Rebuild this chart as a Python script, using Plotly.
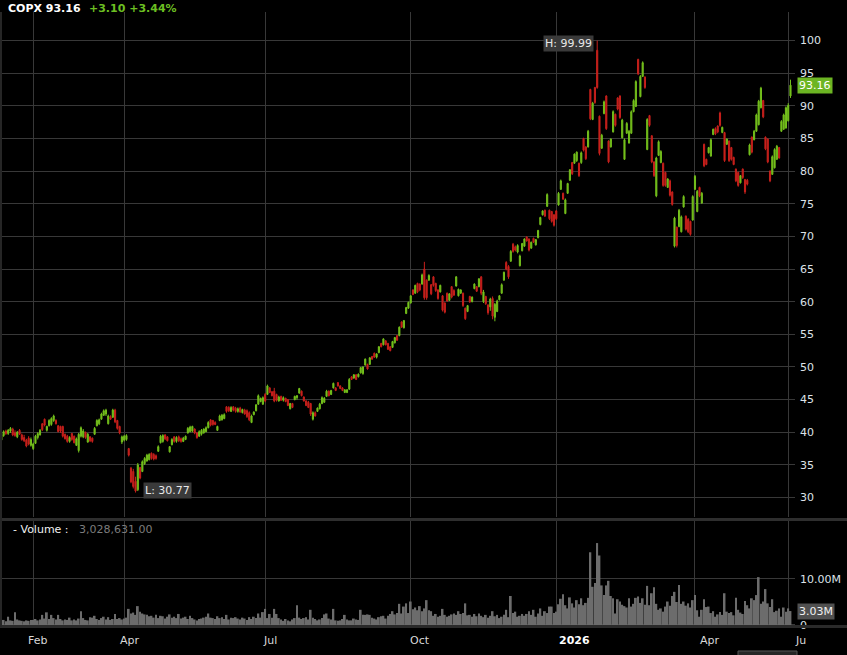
import pandas as pd
import plotly.graph_objects as go

# ---------------- data ----------------
opens = [
    38.8, 39.5, 40.2, 39.8, 40.2, 40.5, 39.9, 39.3, 40.3, 39.6,
    39.2, 38.8, 39.1, 38.0, 37.5, 38.3, 39.2, 39.6, 41.3, 42.0,
    40.3, 41.0, 41.2, 41.8, 41.8, 41.0, 40.9, 40.9, 39.7, 39.4,
    38.6, 39.8, 39.4, 38.0, 37.2, 39.4, 39.3, 40.0, 38.5, 39.3,
    39.1, 39.7, 41.0, 41.3, 42.0, 42.6, 42.8, 41.3, 42.4, 42.3,
    43.4, 41.8, 40.9, 38.5, 38.8, 38.9, 37.5, 34.5, 34.0, 32.5,
    31.2, 34.6, 34.0, 35.2, 35.6, 35.8, 36.8, 36.6, 36.4, 37.1,
    38.4, 38.6, 39.6, 39.3, 37.0, 38.1, 39.3, 38.6, 39.3, 39.0,
    38.6, 38.9, 39.9, 40.1, 40.2, 40.5, 39.9, 39.4, 39.7, 39.9,
    40.1, 40.7, 41.9, 41.8, 41.5, 40.3, 41.8, 41.9, 42.1, 43.9,
    43.8, 43.2, 43.9, 43.7, 43.2, 43.7, 43.0, 43.4, 43.3, 43.0,
    41.5, 42.7, 43.3, 44.3, 44.7, 44.3, 45.8, 45.8, 46.8, 46.2,
    46.3, 45.8, 44.8, 45.5, 44.9, 45.2, 45.0, 43.6, 44.4, 45.0,
    45.3, 46.0, 46.3, 45.4, 44.8, 44.6, 44.4, 42.0, 43.0, 43.2,
    43.6, 44.4, 44.6, 45.5, 46.3, 45.8, 46.8, 46.8, 47.6, 47.1,
    46.8, 46.1, 46.1, 46.6, 48.5, 48.3, 48.8, 48.5, 49.1, 49.0,
    50.3, 50.4, 50.4, 51.6, 52.1, 51.5, 52.2, 53.6, 53.4, 54.0,
    53.6, 53.1, 53.0, 53.7, 54.8, 54.8, 56.9, 56.0, 58.2, 59.0,
    59.8, 61.8, 61.3, 62.8, 62.7, 62.7, 65.0, 63.3, 63.3, 62.6,
    63.8, 62.8, 61.8, 61.5, 60.9, 59.8, 61.3, 60.2, 62.3, 61.7,
    62.4, 60.9, 61.3, 61.3, 59.0, 58.5, 60.8, 60.0, 62.0, 62.3,
    62.3, 63.8, 60.0, 60.8, 59.5, 59.2, 60.5, 57.6, 58.5, 60.3,
    61.3, 63.3, 66.0, 65.4, 66.2, 68.8, 68.4, 67.6, 65.5, 67.8,
    68.5, 69.9, 69.6, 68.2, 69.7, 68.7, 69.8, 71.8, 73.3, 74.0,
    74.6, 74.0, 73.8, 73.3, 73.9, 74.8, 77.2, 76.6, 73.5, 76.6,
    78.6, 81.3, 81.2, 81.6, 81.2, 81.3, 85.0, 83.7, 83.7, 92.5,
    87.9, 92.8, 98.5, 88.4, 83.5, 88.8, 91.5, 84.6, 83.7, 86.0,
    88.7, 91.2, 91.5, 85.1, 81.8, 85.8, 84.3, 85.8, 89.1, 89.9,
    97.1, 91.4, 94.5, 94.4, 83.3, 88.5, 85.4, 81.4, 76.2, 82.4,
    81.3, 81.2, 79.8, 77.5, 78.5, 76.8, 68.5, 71.4, 71.5, 70.7,
    74.5, 73.1, 72.6, 72.3, 72.5, 77.2, 73.8, 77.5, 75.1, 84.1,
    81.8, 82.8, 82.3, 85.6, 86.5, 86.9, 88.9, 85.9, 85.9, 84.1,
    84.6, 83.6, 82.1, 80.3, 79.8, 78.2, 80.3, 78.7, 78.6, 82.5,
    85.2, 84.8, 86.1, 87.1, 89.7, 90.8, 85.2, 84.9, 80.0, 79.5,
    80.5, 81.8, 83.6, 86.1, 86.4, 86.6, 87.7, 91.5,
]
highs = [
    39.8, 40.3, 40.4, 40.5, 40.8, 40.7, 40.3, 40.2, 40.5, 39.8,
    39.6, 39.0, 39.4, 39.2, 38.4, 39.6, 40.0, 40.5, 41.4, 42.1,
    41.0, 42.0, 42.3, 42.7, 42.0, 41.1, 41.0, 41.0, 39.8, 39.6,
    39.4, 39.9, 39.5, 39.2, 39.9, 40.9, 40.5, 40.1, 39.9, 39.4,
    39.2, 40.8, 42.0, 42.1, 43.0, 43.5, 43.6, 42.7, 42.6, 43.6,
    43.6, 41.9, 41.0, 39.5, 39.6, 39.7, 37.6, 34.7, 34.4, 33.2,
    35.3, 34.7, 35.7, 36.2, 36.7, 36.8, 36.9, 36.8, 36.6, 38.0,
    39.6, 39.7, 39.7, 39.4, 37.9, 39.1, 39.4, 39.4, 39.5, 39.2,
    39.3, 39.5, 40.8, 41.0, 41.0, 40.6, 40.0, 40.3, 40.5, 40.6,
    40.9, 41.7, 42.0, 41.9, 41.7, 41.0, 42.7, 42.8, 42.9, 44.0,
    44.0, 44.0, 44.0, 43.9, 43.8, 43.9, 43.6, 43.6, 43.5, 43.2,
    42.7, 43.2, 44.3, 45.8, 45.3, 45.5, 46.0, 47.3, 46.9, 46.3,
    46.8, 45.9, 45.6, 45.6, 45.5, 45.3, 45.1, 44.5, 44.5, 45.6,
    45.7, 46.8, 46.4, 45.5, 44.9, 44.8, 44.5, 43.2, 43.2, 43.8,
    44.5, 45.5, 45.4, 46.5, 46.4, 46.5, 47.6, 46.9, 47.7, 47.2,
    46.9, 46.6, 46.6, 48.3, 48.6, 48.9, 48.9, 49.0, 50.0, 50.1,
    51.3, 50.5, 51.5, 51.7, 52.2, 52.1, 53.2, 53.7, 54.4, 54.1,
    53.7, 53.2, 54.0, 54.6, 54.9, 56.2, 57.0, 57.2, 59.2, 60.0,
    61.0, 61.9, 62.6, 62.9, 62.8, 64.3, 66.1, 63.4, 64.2, 62.7,
    63.9, 62.9, 61.9, 62.6, 61.0, 59.9, 61.4, 61.3, 62.4, 61.9,
    63.9, 62.0, 61.9, 61.4, 59.1, 59.5, 60.9, 60.8, 62.8, 62.4,
    63.6, 63.9, 61.8, 60.9, 59.6, 60.6, 60.8, 59.8, 60.3, 61.0,
    62.8, 64.6, 66.2, 65.6, 67.9, 69.0, 68.6, 68.8, 67.2, 69.0,
    69.7, 70.0, 69.7, 69.2, 69.8, 69.6, 71.0, 73.0, 74.0, 74.1,
    76.6, 74.1, 73.9, 73.4, 74.0, 76.8, 78.7, 76.7, 75.8, 78.2,
    80.3, 81.4, 82.7, 83.0, 81.3, 83.0, 85.1, 83.8, 86.3, 92.6,
    90.6, 92.9, 99.99, 88.5, 85.7, 90.8, 91.6, 84.7, 85.0, 89.3,
    88.8, 91.3, 91.6, 88.0, 85.0, 87.5, 86.3, 89.3, 91.0, 93.9,
    97.2, 94.7, 96.8, 94.5, 88.1, 88.6, 85.5, 81.5, 82.2, 84.7,
    83.2, 81.3, 79.9, 78.9, 78.7, 76.9, 73.0, 71.5, 74.2, 73.2,
    76.3, 73.2, 72.8, 72.4, 76.3, 79.4, 77.1, 77.6, 76.8, 84.2,
    81.9, 83.7, 85.0, 86.5, 86.7, 87.0, 89.1, 86.8, 86.0, 85.0,
    84.7, 83.7, 82.2, 80.4, 79.9, 79.4, 80.4, 78.8, 78.8, 84.2,
    85.3, 86.3, 88.8, 90.9, 92.9, 90.9, 85.3, 85.0, 80.1, 82.4,
    83.5, 84.0, 83.7, 87.8, 88.8, 89.9, 90.4, 94.0,
]
lows = [
    38.6, 39.3, 39.6, 39.6, 39.9, 39.4, 39.3, 39.1, 39.6, 38.7,
    38.5, 37.7, 38.0, 37.8, 37.3, 38.2, 38.9, 39.5, 40.2, 40.9,
    40.1, 40.9, 41.0, 41.6, 41.2, 40.0, 39.9, 39.2, 38.9, 38.4,
    38.4, 38.7, 38.3, 37.9, 36.9, 39.2, 39.1, 39.0, 38.4, 38.5,
    38.4, 39.6, 40.9, 41.1, 41.9, 42.5, 42.5, 41.2, 41.9, 42.2,
    41.4, 40.4, 39.7, 38.2, 38.6, 38.7, 36.3, 32.2, 31.4, 30.77,
    31.0, 32.8, 33.9, 35.0, 35.5, 35.7, 35.8, 35.7, 35.8, 37.0,
    38.3, 38.4, 38.8, 38.6, 36.9, 38.0, 38.4, 38.4, 38.5, 38.4,
    38.5, 38.8, 39.8, 40.0, 40.0, 39.7, 39.0, 39.3, 39.5, 39.8,
    40.0, 40.6, 40.9, 41.0, 41.1, 40.2, 41.7, 41.8, 42.0, 43.0,
    43.1, 43.1, 43.2, 43.0, 43.0, 43.0, 42.9, 42.7, 42.2, 41.7,
    41.4, 42.6, 43.2, 44.2, 44.6, 44.2, 44.6, 45.7, 46.0, 45.5,
    44.6, 44.7, 44.7, 44.8, 44.7, 44.6, 44.0, 43.5, 43.7, 44.9,
    45.0, 45.9, 45.5, 44.7, 44.0, 43.7, 42.5, 41.8, 42.4, 43.1,
    43.5, 44.3, 44.5, 45.4, 45.5, 45.7, 46.7, 46.3, 47.0, 46.6,
    46.3, 46.0, 46.0, 46.5, 48.0, 48.2, 48.0, 48.4, 49.0, 48.8,
    50.2, 49.6, 50.3, 51.1, 51.4, 51.3, 52.1, 53.0, 53.3, 53.3,
    52.6, 52.4, 52.9, 53.6, 54.0, 54.7, 56.0, 55.9, 58.1, 58.9,
    59.7, 61.0, 61.2, 61.3, 61.6, 62.6, 60.3, 60.3, 63.2, 61.0,
    62.3, 61.5, 60.3, 61.4, 58.5, 58.2, 60.0, 60.1, 60.5, 60.9,
    62.3, 60.8, 61.2, 59.2, 57.2, 58.4, 59.8, 59.9, 61.9, 61.5,
    62.2, 61.0, 59.8, 59.5, 58.0, 58.6, 57.3, 57.0, 58.4, 60.2,
    61.2, 63.2, 64.8, 63.5, 66.1, 67.5, 67.7, 67.4, 65.4, 67.7,
    68.4, 69.2, 67.7, 68.1, 69.0, 68.6, 69.7, 71.7, 73.2, 73.0,
    74.5, 72.5, 72.1, 71.5, 72.5, 74.7, 77.1, 75.6, 73.4, 76.5,
    78.5, 79.4, 81.1, 81.4, 79.1, 81.1, 83.0, 81.7, 83.6, 87.8,
    87.8, 90.3, 92.6, 82.4, 83.4, 88.7, 86.3, 81.2, 83.6, 85.9,
    86.8, 89.3, 88.0, 85.0, 81.7, 85.7, 84.2, 85.7, 89.0, 89.8,
    94.7, 91.3, 94.4, 92.6, 83.2, 86.8, 81.2, 79.1, 76.0, 82.3,
    81.2, 77.6, 77.6, 77.4, 76.1, 74.7, 68.3, 68.3, 71.4, 70.6,
    74.4, 70.9, 70.5, 70.1, 72.4, 77.1, 73.7, 76.0, 75.0, 80.6,
    80.9, 82.7, 82.2, 85.5, 85.5, 85.8, 86.8, 85.8, 81.4, 84.0,
    81.4, 81.6, 80.9, 78.3, 77.6, 78.1, 78.8, 76.5, 77.8, 82.4,
    82.7, 84.7, 86.0, 87.0, 89.6, 88.1, 83.2, 81.2, 78.3, 79.4,
    80.4, 81.7, 81.9, 86.0, 86.3, 86.5, 87.6, 91.2,
]
closes = [
    39.6, 40.1, 39.8, 40.3, 40.6, 39.6, 39.5, 40.0, 39.7, 38.9,
    38.7, 37.9, 38.2, 38.9, 38.2, 39.4, 39.8, 40.3, 40.4, 41.1,
    40.9, 41.8, 42.1, 42.5, 41.3, 40.1, 40.2, 39.4, 39.0, 38.6,
    39.2, 38.9, 38.4, 39.0, 39.7, 40.7, 40.2, 39.2, 39.7, 38.7,
    38.6, 40.6, 41.8, 41.9, 42.8, 43.3, 43.4, 42.5, 42.0, 43.4,
    41.6, 40.6, 39.9, 39.3, 39.4, 39.5, 36.5, 32.4, 31.7, 31.0,
    35.0, 33.0, 35.5, 36.0, 36.5, 36.6, 36.0, 35.9, 36.0, 37.8,
    39.4, 39.5, 39.0, 38.7, 37.8, 38.9, 38.6, 39.2, 38.7, 38.6,
    39.1, 39.4, 40.6, 40.8, 40.9, 39.9, 39.2, 40.1, 40.3, 40.5,
    40.7, 41.5, 41.1, 41.2, 41.2, 40.9, 42.5, 42.6, 42.7, 43.2,
    43.3, 43.8, 43.4, 43.2, 43.6, 43.1, 43.5, 42.8, 42.4, 41.9,
    42.5, 43.1, 44.2, 45.6, 45.2, 45.3, 44.8, 47.1, 46.1, 45.6,
    44.8, 44.9, 45.4, 44.9, 45.3, 44.7, 44.1, 44.4, 43.8, 45.5,
    45.6, 46.7, 45.6, 44.8, 44.1, 43.8, 42.8, 43.0, 42.5, 43.7,
    44.3, 45.3, 45.2, 46.3, 45.6, 46.4, 47.5, 46.4, 47.1, 46.7,
    46.4, 46.5, 46.5, 48.1, 48.1, 48.8, 48.1, 48.9, 49.9, 50.0,
    51.2, 49.7, 51.4, 51.2, 51.5, 52.0, 53.1, 53.1, 54.3, 53.4,
    52.7, 52.5, 53.9, 54.5, 54.1, 56.1, 56.1, 57.1, 59.1, 59.9,
    60.9, 61.1, 62.5, 61.5, 61.8, 64.1, 60.6, 60.6, 64.0, 61.2,
    62.5, 61.7, 60.5, 62.5, 58.7, 58.4, 60.1, 61.2, 60.7, 61.0,
    63.8, 61.9, 61.8, 59.4, 57.4, 59.4, 60.0, 60.7, 62.7, 61.6,
    63.5, 61.3, 61.5, 59.7, 58.3, 60.4, 57.8, 59.6, 60.1, 60.9,
    62.6, 64.5, 65.0, 63.8, 67.7, 67.7, 67.9, 68.6, 67.0, 68.9,
    69.6, 69.3, 67.9, 69.1, 69.1, 69.5, 70.9, 72.9, 73.9, 73.1,
    76.4, 72.7, 72.3, 71.7, 72.7, 76.6, 78.5, 75.7, 75.6, 78.1,
    80.2, 79.6, 82.6, 82.9, 79.3, 82.8, 83.2, 81.9, 86.1, 88.0,
    90.4, 90.5, 92.8, 82.7, 85.5, 90.6, 86.5, 81.4, 84.9, 89.1,
    87.0, 89.5, 88.2, 87.8, 84.8, 87.3, 86.1, 89.1, 90.8, 93.7,
    94.9, 94.5, 96.6, 92.8, 87.9, 87.0, 81.4, 79.3, 82.0, 84.5,
    83.0, 77.8, 77.8, 78.8, 76.3, 74.9, 72.8, 68.6, 74.0, 73.0,
    76.1, 71.1, 70.7, 70.3, 76.1, 79.2, 76.9, 76.2, 76.6, 80.8,
    81.0, 83.6, 84.8, 86.4, 85.7, 86.0, 87.0, 86.7, 81.6, 84.9,
    81.6, 81.8, 81.0, 78.5, 77.8, 79.3, 79.0, 76.8, 78.0, 84.0,
    82.9, 86.1, 88.6, 90.7, 92.7, 88.3, 83.4, 81.4, 78.5, 82.2,
    83.3, 83.8, 82.0, 87.6, 88.6, 89.7, 90.06, 93.16,
]
volumes_m = [
    0.9, 1.1, 0.8, 1.8, 1.0, 0.9, 2.75, 1.2, 1.0, 0.9,
    0.8, 1.0, 0.9, 1.1, 1.1, 1.3, 1.0, 1.2, 2.2, 1.4,
    2.75, 1.3, 2.2, 1.5, 1.2, 2.2, 1.3, 1.0, 1.2, 1.1,
    1.6, 1.0, 1.2, 1.0, 1.4, 3.0, 1.5, 1.1, 1.0, 1.7,
    1.6, 2.0, 1.3, 1.1, 1.5, 1.8, 1.2, 1.7, 1.1, 1.3,
    2.4, 1.3, 1.5, 1.2, 1.4, 1.6, 3.5, 2.5, 2.7, 2.2,
    4.1, 2.9, 2.5, 2.3, 2.2, 1.9, 2.0, 1.6, 2.2, 1.5,
    2.0, 1.9, 1.4, 1.8, 2.3, 1.6, 1.8, 1.5, 2.4, 1.4,
    1.6, 1.8, 1.3, 2.0, 1.5, 1.2, 1.0, 1.3, 1.4, 1.6,
    1.8, 2.5, 1.6, 1.5, 1.3, 1.9, 1.5, 1.7, 1.3, 2.2,
    1.2, 1.6, 1.5, 1.7, 1.4, 1.2, 1.6, 1.4, 1.1, 1.7,
    1.3, 1.8, 1.5, 2.5, 1.6, 2.8, 3.5, 1.5, 2.4, 1.6,
    3.5, 2.4, 1.5, 1.2, 0.9, 1.3, 1.0, 0.8, 1.2, 1.5,
    4.3, 1.6, 1.3, 1.5, 1.7, 1.2, 3.3, 1.6, 1.3, 1.0,
    1.2, 1.5, 2.3, 2.5, 1.4, 1.2, 3.5, 1.0, 0.9, 1.0,
    1.3, 2.2, 1.2, 1.0, 1.0, 1.4, 1.2, 1.1, 3.3, 2.2,
    2.2, 2.3, 2.2, 1.6, 1.4, 1.2, 1.7, 1.9, 2.0, 1.4,
    2.0, 2.4, 3.0, 2.3, 2.6, 4.6, 2.5, 4.0, 4.7, 2.6,
    5.1, 3.4, 3.8, 3.2, 4.1, 3.0, 3.6, 5.4, 3.2, 3.0,
    2.0, 2.4, 1.8, 2.0, 3.5, 2.2, 1.8, 2.0, 2.3, 2.5,
    2.2, 3.0, 2.4, 2.6, 4.7, 2.1, 2.2, 1.8, 2.4, 1.9,
    2.5, 2.0, 1.7, 2.2, 1.6, 2.0, 3.0, 1.9, 2.2, 1.5,
    1.8, 2.2, 3.3, 1.7, 6.3, 2.6, 2.9, 1.8, 2.0, 2.4,
    2.0, 2.4, 3.0, 2.2, 3.3, 1.8, 2.5, 3.6, 2.0, 3.0,
    2.6, 4.0, 4.0, 2.6, 2.9, 4.5, 5.7, 6.7, 4.3, 3.6,
    6.0, 4.7, 3.8, 5.4, 4.5, 5.8, 4.3, 4.8, 5.9, 15.8,
    8.3, 9.1, 17.8, 15.1, 8.6, 6.5, 8.6, 9.6, 6.3, 5.8,
    2.5, 5.6, 5.1, 4.4, 4.1, 3.8, 5.8, 4.0, 4.6, 5.9,
    6.2, 4.8, 5.8, 4.4, 8.5, 4.3, 6.9, 8.2, 4.6, 3.3,
    3.6, 2.9, 4.0, 5.1, 4.2, 6.3, 7.2, 5.0, 8.7, 4.6,
    5.1, 4.2, 4.7, 3.8, 5.4, 6.5, 3.2, 1.8, 3.3, 5.6,
    3.9, 4.0, 2.6, 3.0, 1.8, 2.3, 2.8, 2.2, 6.9, 2.9,
    2.6, 2.8, 2.1, 5.9, 3.3, 2.7, 2.4, 5.2, 4.3, 3.6,
    5.8, 5.4, 6.5, 10.4, 4.6, 5.1, 7.8, 4.7, 3.9, 5.6,
    2.8, 3.1, 3.6, 1.8, 3.8, 2.9, 3.6, 3.028631,
]

market_holidays = [
    "2025-01-09", "2025-01-20", "2025-02-17", "2025-04-18", "2025-05-26",
    "2025-06-19", "2025-07-04", "2025-09-01", "2025-11-27", "2025-12-25",
    "2026-01-01", "2026-01-19", "2026-02-16", "2026-04-03", "2026-05-25",
]
last_session = "2026-06-02"
tick_months = ["2025-02", "2025-04", "2025-07", "2025-10", "2026-01", "2026-04", "2026-06"]
tick_labels = ["Feb", "Apr", "Jul", "Oct", "2026", "Apr", "Ju"]

symbol = "COPX"
last_price = 93.16
change = "+3.10"
change_pct = "+3.44%"
last_volume = "3,028,631.00"

# ---------------- build ----------------
n = len(closes)
sessions = pd.date_range("2024-12-01", last_session,
                         freq=pd.offsets.CustomBusinessDay(holidays=market_holidays))
dates = [d.strftime("%Y-%m-%d") for d in sessions[-n:]]
volumes = [v * 1e6 for v in volumes_m]

tick_dates = []
for m in tick_months:
    tick_dates.append(next(d for d in dates if d.startswith(m)))

GREEN = "#74c01c"
RED = "#c8201c"
GRID = "#383838"
TXT = "#dde2e8"
FONT = "DejaVu Sans"

fig = go.Figure()
fig.add_trace(go.Candlestick(
    x=dates, open=opens, high=highs, low=lows, close=closes,
    increasing=dict(line=dict(color=GREEN, width=1), fillcolor=GREEN),
    decreasing=dict(line=dict(color=RED, width=1), fillcolor=RED),
    whiskerwidth=0, xaxis="x", yaxis="y", showlegend=False, hoverinfo="skip",
))
fig.add_trace(go.Bar(
    x=dates, y=volumes, marker=dict(color="#6c6c6c", line=dict(width=0)),
    xaxis="x2", yaxis="y2", showlegend=False, hoverinfo="skip",
))

xr = [n - 1 - 347.6, n - 1 + 1.98]
common_x = dict(type="category", range=xr, tickvals=tick_dates, ticktext=[""] * len(tick_dates),
                showgrid=True, gridcolor=GRID, gridwidth=1, zeroline=False, showline=False,
                ticks="", showticklabels=False, fixedrange=True)

fig.update_layout(
    width=847, height=655,
    paper_bgcolor="#000000", plot_bgcolor="#000000",
    margin=dict(l=0, r=52, t=12, b=28),
    font=dict(family=FONT, size=11, color=TXT),
    bargap=0.2,
    xaxis=dict(**common_x, anchor="y", rangeslider=dict(visible=False)),
    xaxis2=dict(**common_x, anchor="y2", matches="x"),
    yaxis=dict(domain=[0.1789, 1.0], range=[27.03, 104.36], side="right",
               tickvals=list(range(30, 101, 5)), showgrid=True, gridcolor=GRID,
               zeroline=False, showline=False, ticks="", ticklabelstandoff=4,
               tickfont=dict(family=FONT, size=11, color=TXT)),
    yaxis2=dict(domain=[0.0, 0.1724], range=[-0.435e6, 22.6e6], side="right",
                tickvals=[0, 10e6], ticktext=["0", "10.00M"], showgrid=True,
                gridcolor=GRID, zeroline=False, showline=False, ticks="",
                ticklabelstandoff=4, tickfont=dict(family=FONT, size=11, color=TXT)),
)

ann = []
# header
ann.append(dict(xref="paper", yref="paper", x=0, y=1, xanchor="left", yanchor="middle",
                xshift=6, yshift=4, showarrow=False,
                text=f"<b>{symbol} {last_price:.2f}</b>",
                font=dict(family=FONT, size=11, color="#ffffff")))
ann.append(dict(xref="paper", yref="paper", x=0, y=1, xanchor="left", yanchor="middle",
                xshift=87, yshift=4, showarrow=False,
                text=f"<b>{change} {change_pct}</b>",
                font=dict(family=FONT, size=11, color="#6cbf22")))
# volume header
ann.append(dict(xref="paper", yref="paper", x=0, y=0.1724, xanchor="left", yanchor="middle",
                xshift=11, yshift=-9, showarrow=False, text="- Volume :",
                font=dict(family=FONT, size=11, color="#f0f0f0")))
ann.append(dict(xref="paper", yref="paper", x=0, y=0.1724, xanchor="left", yanchor="middle",
                xshift=77, yshift=-9, showarrow=False, text=last_volume,
                font=dict(family=FONT, size=11, color="#7c7c7c")))
# high / low markers
ih = highs.index(max(highs))
il = lows.index(min(lows))
ann.append(dict(xref="x", yref="y", x=dates[ih], y=highs[ih], xanchor="right", yanchor="middle",
                xshift=-3, yshift=-3, showarrow=False, text=f"H: {highs[ih]:.2f}",
                bgcolor="#3a3a3a", borderpad=1,
                font=dict(family=FONT, size=11, color="#e8e8e8")))
ann.append(dict(xref="x", yref="y", x=dates[il], y=lows[il], xanchor="left", yanchor="middle",
                xshift=7, yshift=2, showarrow=False, text=f"L: {lows[il]:.2f}",
                bgcolor="#3a3a3a", borderpad=1,
                font=dict(family=FONT, size=11, color="#e8e8e8")))
# last price / volume tags
ann.append(dict(xref="paper", yref="y", x=1, y=closes[-1], xanchor="left", yanchor="middle",
                xshift=2, showarrow=False, text=f"{closes[-1]:.2f}", bgcolor="#6cb523",
                borderpad=1, font=dict(family=FONT, size=11, color="#ffffff")))
ann.append(dict(xref="paper", yref="y2", x=1, y=volumes[-1], xanchor="left", yanchor="middle",
                xshift=2, showarrow=False, text=f"{volumes[-1] / 1e6:.2f}M", bgcolor="#505050",
                borderpad=1, font=dict(family=FONT, size=11, color="#f0f0f0")))
# x labels
label_shift = [4, 5.5, 5, 9.5, 18, 15, 5]
for d, t, s in zip(tick_dates, tick_labels, label_shift):
    bold = t.isdigit()
    ann.append(dict(xref="x2", yref="paper", x=d, y=0, xanchor="left" if t == "Ju" else "center",
                    yanchor="middle", xshift=s, yshift=-13, showarrow=False,
                    text=f"<b>{t}</b>" if bold else t,
                    font=dict(family=FONT, size=11, color="#ffffff" if bold else "#d8d8d8")))
fig.update_layout(annotations=ann)

# panel separators / frame
px = 1 / 795.0
py = 1 / 615.0
shapes = [
    dict(type="rect", xref="paper", yref="paper", x0=0, x1=847 * px, y0=(627 - 521) * py,
         y1=(627 - 518) * py, fillcolor="#2e2e2e", line=dict(width=0), layer="above"),
    dict(type="rect", xref="paper", yref="paper", x0=0, x1=847 * px, y0=(627 - 628) * py,
         y1=(627 - 625) * py, fillcolor="#2a2a2a", line=dict(width=0), layer="above"),
    dict(type="rect", xref="paper", yref="paper", x0=0, x1=2 * px, y0=0,
         y1=1, fillcolor="#262626", line=dict(width=0), layer="above"),
    dict(type="rect", xref="paper", yref="paper", x0=738 * px, x1=797 * px, y0=(627 - 656) * py,
         y1=(627 - 651) * py, fillcolor="#262626", line=dict(color="#555555", width=1)),
]
fig.update_layout(shapes=shapes)

fig.write_html("out.html")
